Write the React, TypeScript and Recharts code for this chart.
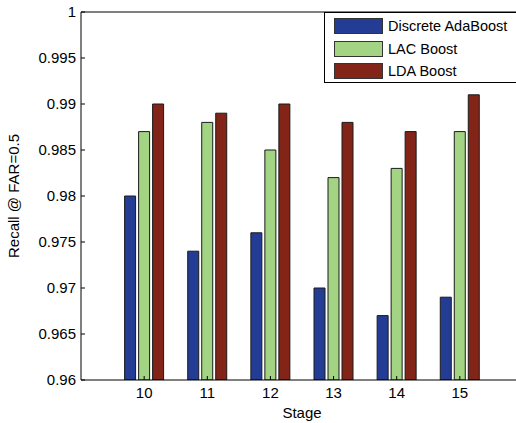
import React from 'react';
import { BarChart, Bar, XAxis, YAxis, Legend, ReferenceLine } from 'recharts';

const stages = ['10', '11', '12', '13', '14', '15'];
const discreteAdaBoost = [0.98, 0.974, 0.976, 0.97, 0.967, 0.969];
const lacBoost = [0.987, 0.988, 0.985, 0.982, 0.983, 0.987];
const ldaBoost = [0.99, 0.989, 0.99, 0.988, 0.987, 0.991];
const yTicks = [0.96, 0.965, 0.97, 0.975, 0.98, 0.985, 0.99, 0.995, 1];
const seriesNames = ['Discrete AdaBoost', 'LAC Boost', 'LDA Boost'];
const seriesColors = ['#243d94', '#a3d483', '#822417'];

const data = stages.map((s, i) => ({
  stage: s,
  a: discreteAdaBoost[i],
  b: lacBoost[i],
  c: ldaBoost[i],
}));

const FONT = '"Liberation Sans", Arial, Helvetica, sans-serif';

const fmt = (v: number) => String(+v.toFixed(3));

const LegendBox = () => (
  <div
    style={{
      border: '1px solid #000',
      background: '#fff',
      width: 220,
      height: 71,
      boxSizing: 'border-box',
      paddingTop: 2,
      fontFamily: FONT,
      fontSize: 14.5,
      lineHeight: '18px',
      color: '#000',
    }}
  >
    {seriesNames.map((n, i) => (
      <div key={n} style={{ display: 'flex', alignItems: 'center', height: 22.5, whiteSpace: 'nowrap' }}>
        <span
          style={{
            display: 'inline-block',
            flex: 'none',
            width: 49,
            height: 16,
            marginLeft: 9,
            marginRight: 5,
            background: seriesColors[i],
            border: '1px solid #333',
            boxSizing: 'border-box',
          }}
        />
        <span style={{ fontSize: 14.5, fontFamily: FONT }}>{n}</span>
      </div>
    ))}
  </div>
);

export default function App() {
  return (
    <div style={{ position: 'absolute', left: 0, top: 0, width: 516, height: 423, overflow: 'hidden', background: '#fff' }}>
      <BarChart
        width={540}
        height={423}
        data={data}
        margin={{ top: 11, right: 17, bottom: 0, left: 0 }}
        barSize={11}
        barGap={3}
        style={{ fontFamily: FONT }}
      >
        <XAxis
          dataKey="stage"
          xAxisId="bottom"
          height={43}
          padding={{ left: 31.6, right: 31.6 }}
          stroke="#000"
          strokeWidth={1}
          tickSize={-4}
          tickMargin={11}
          tick={{ fill: '#000', fontSize: 15, fontFamily: FONT }}
          label={{ value: 'Stage', position: 'insideBottom', offset: 5, fill: '#000', fontSize: 15, fontFamily: FONT }}
        />
        <XAxis
          dataKey="stage"
          xAxisId="top"
          orientation="top"
          height={1}
          padding={{ left: 31.6, right: 31.6 }}
          stroke="#000"
          axisLine={false}
          tickSize={-4}
          tick={false}
        />
        <YAxis
          yAxisId="left"
          width={81}
          domain={[0.96, 1]}
          ticks={yTicks}
          allowDataOverflow
          stroke="#000"
          tickSize={-4}
          tickMargin={9}
          tickFormatter={fmt}
          tick={{ fill: '#000', fontSize: 15, fontFamily: FONT }}
          label={{
            value: 'Recall @ FAR=0.5',
            angle: -90,
            position: 'insideLeft',
            offset: 14,
            style: { textAnchor: 'middle', fill: '#000', fontSize: 15, fontFamily: FONT },
          }}
        />
        <ReferenceLine xAxisId="bottom" yAxisId="left" y={1} stroke="#000" strokeWidth={1} ifOverflow="visible" />
        <Legend
          layout="vertical"
          align="center"
          verticalAlign="middle"
          wrapperStyle={{ position: 'absolute', left: 324, top: 12, width: 220 }}
          content={() => <LegendBox />}
        />
        <Bar xAxisId="bottom" yAxisId="left" dataKey="a" name={seriesNames[0]} fill={seriesColors[0]} stroke="#1a1a1a" strokeWidth={1} isAnimationActive={false} />
        <Bar xAxisId="bottom" yAxisId="left" dataKey="b" name={seriesNames[1]} fill={seriesColors[1]} stroke="#1a1a1a" strokeWidth={1} isAnimationActive={false} />
        <Bar xAxisId="bottom" yAxisId="left" dataKey="c" name={seriesNames[2]} fill={seriesColors[2]} stroke="#1a1a1a" strokeWidth={1} isAnimationActive={false} />
      </BarChart>
    </div>
  );
}
